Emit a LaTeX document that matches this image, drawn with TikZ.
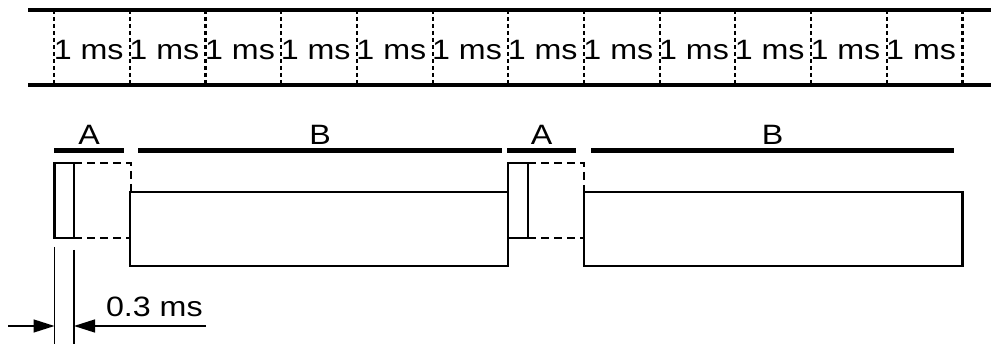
\documentclass[tikz,border=0pt]{standalone}
\usepackage{fontspec}
\setmainfont{Liberation Sans}
\usetikzlibrary{arrows.meta}
\newcommand\stretchtext[1]{\scalebox{1.15}[1]{#1}}
\begin{document}
\begin{tikzpicture}[x=1pt,y=-1pt,
  lab/.style={inner sep=0pt,outer sep=0pt,font=\fontsize{28pt}{30pt}\selectfont},
  rail/.style={line width=3.2pt},
  tick/.style={line width=2.3pt,dash pattern=on 4pt off 3pt},
  bar/.style={line width=5pt},
  pulse/.style={line width=2.8pt},
  ghost/.style={line width=2.8pt,dash pattern=on 8pt off 5pt},
  dim/.style={line width=1.4pt},
  dimarrow/.style={line width=1.4pt,-{Triangle[length=21pt,width=13pt]}}]
\useasboundingbox (0,0) rectangle (991,344);
% time grid
\draw[rail] (28,10) -- (991,10);
\draw[rail] (28,85) -- (991,85);
\foreach \k in {0,...,12}{
  \draw[tick] ({54.3+75.67*\k},10) -- ({54.3+75.67*\k},85);
}
\foreach \k in {0,...,11}{
  \node[lab,anchor=base west] (ms\k) at ({53.8+75.67*\k},60) {\stretchtext{1 ms}};
}
% phase bars
\draw[bar] (54,151) -- (124,151);
\draw[bar] (138,151) -- (502,151);
\draw[bar] (507,151) -- (576,151);
\draw[bar] (591,151) -- (954,151);
\node[lab,anchor=base] (A1) at (89,145) {\stretchtext{A}};
\node[lab,anchor=base] (B1) at (320,145) {\stretchtext{B}};
\node[lab,anchor=base] (A2) at (541.5,145) {\stretchtext{A}};
\node[lab,anchor=base] (B2) at (772.5,145) {\stretchtext{B}};
% pulses
\draw[pulse] (54.5,163) rectangle (74,238);
\draw[ghost] (74,163) -- (131,163) -- (131,192);
\draw[ghost] (74,238) -- (130,238);
\draw[pulse] (130,192) rectangle (508,266);
\draw[pulse] (508,163) rectangle (528,238);
\draw[ghost] (528,163) -- (584,163) -- (584,192);
\draw[ghost] (528,238) -- (584,238);
\draw[pulse] (584,192) rectangle (962.5,266);
% dimension
\coordinate (e1t) at (54.5,247);
\coordinate (e1b) at (54.5,344);
\coordinate (e2t) at (74,250);
\coordinate (e2b) at (74,344);
\draw[dim] (e1t) -- (e1b);
\draw[dim] (e2t) -- (e2b);
\coordinate (l0) at (8,326);
\coordinate (l1) at (54.5,326);
\coordinate (r0) at (206,326);
\coordinate (r1) at (74,326);
\draw[dimarrow] (l0) -- (l1);
\draw[dimarrow] (r0) -- (r1);
\node[lab,anchor=base west] (dimtext) at (106,317) {\stretchtext{0.3 ms}};
\end{tikzpicture}
\end{document}
